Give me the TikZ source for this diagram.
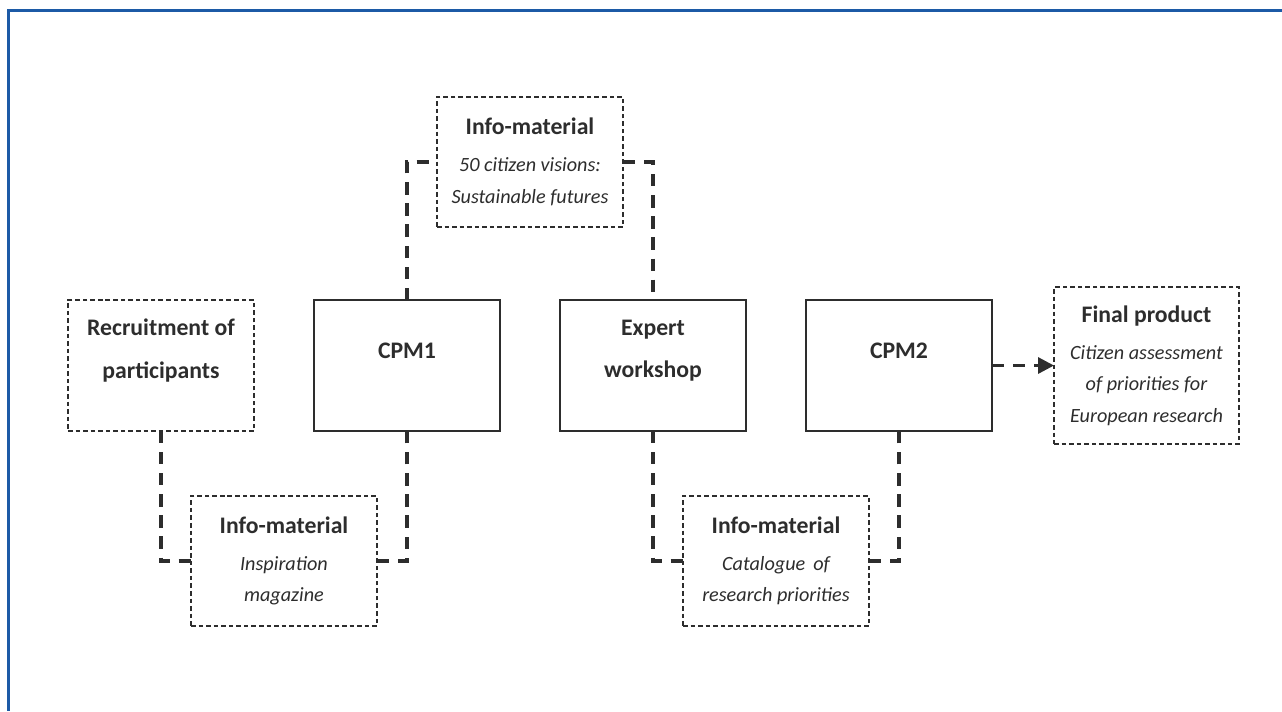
\documentclass[tikz,border=0pt]{standalone}
\usepackage{fontspec}
\setmainfont{Carlito}
\usetikzlibrary{arrows.meta,calc,positioning}
\definecolor{frameblue}{RGB}{28,90,166}
\definecolor{ink}{RGB}{45,45,45}
\tikzset{
flow/.style={node distance=1.2cm, every node/.style={text=ink}},
stage/.style={draw=ink, line width=0.8pt, outer sep=0pt, minimum width=3.72cm, minimum height=2.62cm},
stagetext/.style={font=\fontsize{13.5}{24}\selectfont\bfseries, align=center, text=ink, yshift=0.3cm},
raised/.style={label={[stagetext]center:#1}},
info/.style={draw=ink, line width=0.6pt, dash pattern=on 2.6pt off 1.7pt, outer sep=0pt,
minimum width=3.72cm, minimum height=2.6cm, align=center,
font=\fontsize{11.5}{18}\selectfont\itshape},
link/.style={draw=ink, line width=1.8pt, dash pattern=on 7pt off 5pt},
}
\newcommand{\infohead}[1]{{\upshape\bfseries\fontsize{13.5}{18}\selectfont #1}}

\begin{document}
\begin{tikzpicture}[flow]
\useasboundingbox (0,0) rectangle (25.64,-14.22);
\draw[frameblue, line width=1.5pt] (25.64,-0.21) -- (0.166,-0.21) -- (0.166,-14.22);

% main row
\node[info, minimum height=2.62cm, raised={Recruitment of\\participants}] (recruit) at (3.22,-7.31) {};
\node[stage, raised={CPM1}, right=of recruit] (cpm1) {};
\node[stage, raised={Expert\\workshop}, right=of cpm1] (expert) {};
\node[stage, raised={CPM2}, right=of expert] (cpm2) {};
\node[info, minimum width=3.7cm, minimum height=3.14cm, right=1.24cm of cpm2] (final)
  {\infohead{Final product}\\[3pt] Citizen assessment\\ of priorities for\\ European research};

% info material
\coordinate (mida) at ($(cpm1.north)!0.5!(expert.north)$);
\coordinate (midb) at ($(recruit.south)!0.5!(cpm1.south)$);
\coordinate (midc) at ($(expert.south)!0.5!(cpm2.south)$);
\node[info, above=1.46cm of mida] (info0)
  {\infohead{Info-material}\\[3pt] 50 citizen visions:\\ Sustainable futures};
\node[info, below=1.3cm of midb] (info1)
  {\infohead{Info-material}\\[3pt] Inspiration\\ magazine};
\node[info, below=1.3cm of midc] (info2)
  {\infohead{Info-material}\\[3pt] Catalogue\, of\\ research priorities};

% connectors
\draw[link] (recruit.south) |- (info1.west);
\draw[link] (info1.east) -| (cpm1.south);
\draw[link] (cpm1.north) |- (info0.west);
\draw[link] (info0.east) -| (expert.north);
\draw[link] (expert.south) |- (info2.west);
\draw[link] (info2.east) -| (cpm2.south);
\draw[link, -{Triangle[length=9pt,width=9pt]}] (cpm2.east) -- (cpm2.east -| final.west);
\end{tikzpicture}
\end{document}
